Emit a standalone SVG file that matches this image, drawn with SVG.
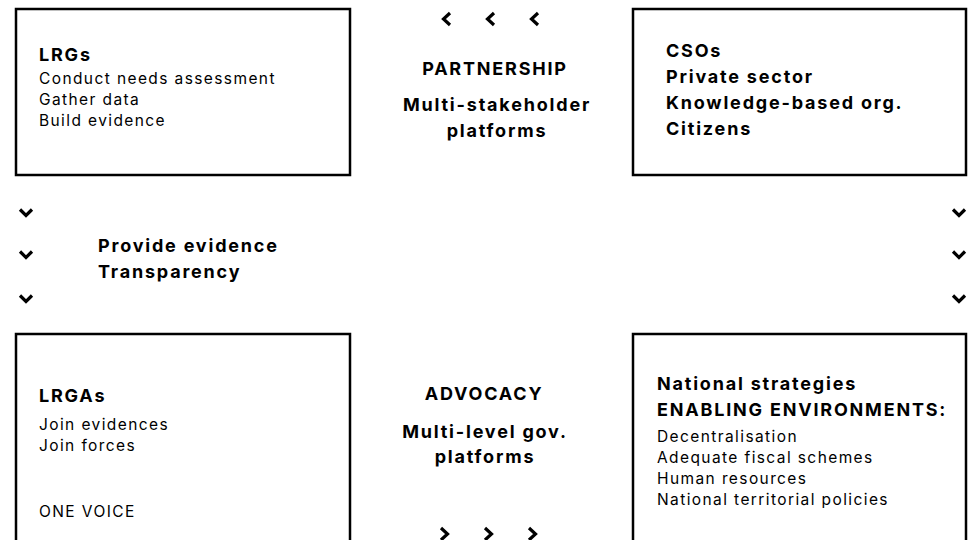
<svg xmlns="http://www.w3.org/2000/svg" width="970" height="540" viewBox="0 0 970 540">
<defs>
<style>
.box{fill:#fff;stroke:#000;stroke-width:2.5}
.t{font-family:Inter,"Liberation Sans",sans-serif;fill:#000}
.h{font-weight:700;font-size:18px;letter-spacing:1.8px}
.b{font-size:15.5px;letter-spacing:1.4px}
.hb{font-weight:700;font-size:18px;letter-spacing:1.8px}
.c{text-anchor:middle}
.chev{fill:none;stroke:#000;stroke-width:3.2;stroke-linecap:butt;stroke-linejoin:miter}
</style>
<polyline id="chl" class="chev" points="5,-6 -1.5,0 5,6"/>
<polyline id="chr" class="chev" points="-5,-6 1.5,0 -5,6"/>
<polyline id="chd" class="chev" points="-6,-3.5 0,2.5 6,-3.5"/>
</defs>
<rect width="970" height="540" fill="#fff"/>
<g id="node-lrgs">
<rect class="box" x="16" y="9" width="334" height="166"/>
<text class="t h" x="39" y="61">LRGs</text>
<text class="t b" x="39" y="84">Conduct needs assessment</text>
<text class="t b" x="39" y="105">Gather data</text>
<text class="t b" x="39" y="126">Build evidence</text>
</g>
<g id="node-cso">
<rect class="box" x="633" y="9" width="333" height="166"/>
<text class="t hb" x="666" y="57">CSOs</text>
<text class="t hb" x="666" y="83">Private sector</text>
<text class="t hb" x="666" y="109">Knowledge-based org.</text>
<text class="t hb" x="666" y="135">Citizens</text>
</g>
<g id="node-lrgas">
<rect class="box" x="16" y="334" width="334" height="210"/>
<text class="t h" x="39" y="402">LRGAs</text>
<text class="t b" x="39" y="430">Join evidences</text>
<text class="t b" x="39" y="451">Join forces</text>
<text class="t b" x="39" y="517">ONE VOICE</text>
</g>
<g id="node-national">
<rect class="box" x="633" y="334" width="333" height="210"/>
<text class="t hb" x="657" y="390">National strategies</text>
<text class="t hb" x="657" y="416">ENABLING ENVIRONMENTS:</text>
<text class="t b" x="657" y="442">Decentralisation</text>
<text class="t b" x="657" y="463">Adequate fiscal schemes</text>
<text class="t b" x="657" y="484">Human resources</text>
<text class="t b" x="657" y="505">National territorial policies</text>
</g>
<g id="node-partnership">
<text class="t h c" x="495" y="75">PARTNERSHIP</text>
<text class="t hb c" x="497" y="111">Multi-stakeholder</text>
<text class="t hb c" x="497" y="137">platforms</text>
</g>
<g id="node-evidence">
<text class="t hb" x="98" y="252">Provide evidence</text>
<text class="t hb" x="98" y="278">Transparency</text>
</g>
<g id="node-advocacy">
<text class="t h c" x="484" y="400">ADVOCACY</text>
<text class="t hb c" x="485" y="438">Multi-level gov.</text>
<text class="t hb c" x="485" y="463">platforms</text>
</g>
<g id="connectors">
<use href="#chl" x="445" y="19"/>
<use href="#chl" x="489" y="19"/>
<use href="#chl" x="533" y="19"/>
<use href="#chd" x="26" y="213"/>
<use href="#chd" x="26" y="255"/>
<use href="#chd" x="26" y="299"/>
<use href="#chd" x="959" y="213"/>
<use href="#chd" x="959" y="255"/>
<use href="#chd" x="959" y="299"/>
<use href="#chr" x="446" y="534"/>
<use href="#chr" x="490" y="534"/>
<use href="#chr" x="534" y="534"/>
</g>
</svg>
